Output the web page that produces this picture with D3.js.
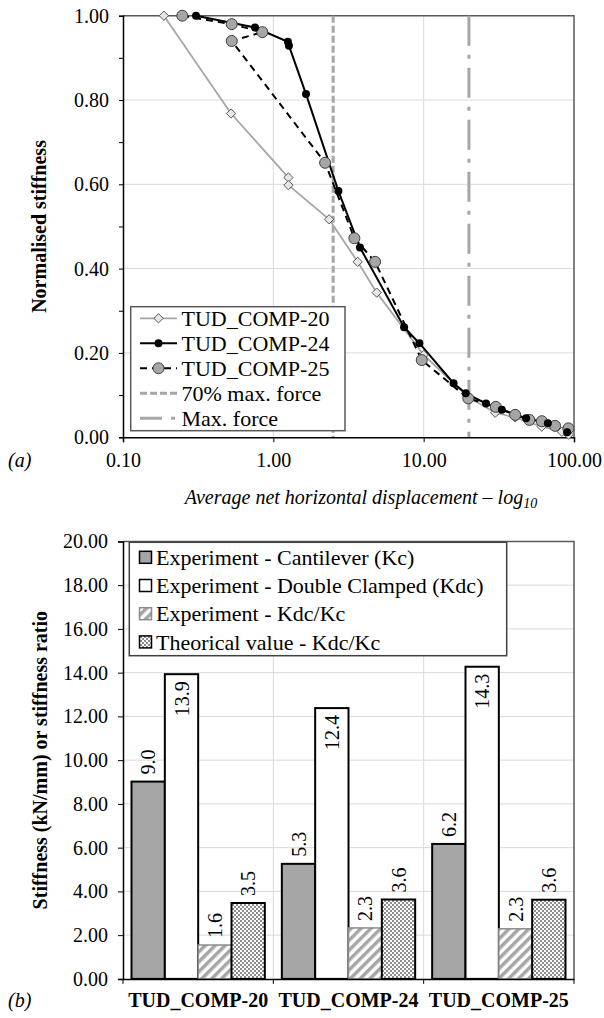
<!DOCTYPE html>
<html>
<head>
<meta charset="utf-8">
<script src="https://cdn.jsdelivr.net/npm/d3@7"></script>
<style>
  body { margin: 0; background: #fff; }
  svg, svg text { font-family: "Liberation Serif", "Tinos", "Times New Roman", Times, "DejaVu Serif", serif; }
</style>
</head>
<body>
<div id="chart"></div>
<script>
var FONT = "'Liberation Serif', Tinos, 'Times New Roman', Times, 'DejaVu Serif', serif";

// ---- data ----
var xTicks = [0.1, 1, 10, 100];
var yTicksTop = [0, 0.2, 0.4, 0.6, 0.8, 1.0];
var yMinorTop = [0.1, 0.3, 0.5, 0.7, 0.9];

var comp20X = [0.187, 0.523, 1.26, 1.26, 2.35, 3.64, 4.87, 10.0, 19.9, 29.9, 40.6, 61, 83, 92];
var comp20Y = [1.00, 0.768, 0.616, 0.598, 0.517, 0.416, 0.343, 0.195, 0.095, 0.058, 0.047, 0.025, 0.013, 0.006];

var comp24X = [0.306, 0.755, 1.25, 1.27, 1.65, 2.71, 3.77, 7.41, 9.36, 15.8, 19.05, 26.0, 33.1, 48, 67, 90];
var comp24Y = [1.00, 0.972, 0.938, 0.929, 0.814, 0.584, 0.450, 0.261, 0.223, 0.128, 0.104, 0.080, 0.065, 0.045, 0.033, 0.012];

var comp25X = [0.248, 0.529, 0.845, 0.529, 2.21, 3.46, 4.75, 9.71, 19.8, 30.2, 40.6, 50.5, 61.1, 74.8, 91.8];
var comp25Y = [1.00, 0.980, 0.961, 0.940, 0.651, 0.472, 0.416, 0.183, 0.092, 0.072, 0.053, 0.041, 0.038, 0.027, 0.021];

var force70 = 2.5;
var forceMax = 20;

var categories = ["TUD_COMP-20", "TUD_COMP-24", "TUD_COMP-25"];
var seriesNames = ["Experiment - Cantilever (Kc)", "Experiment - Double Clamped (Kdc)",
                   "Experiment - Kdc/Kc", "Theorical value - Kdc/Kc"];
var kc = [9.02, 5.26, 6.17];
var kdc = [13.93, 12.38, 14.27];
var ratioExp = [1.55, 2.33, 2.29];
var ratioTheo = [3.47, 3.63, 3.62];
var yTicksBar = [0, 2, 4, 6, 8, 10, 12, 14, 16, 18, 20];

// ---- svg ----
var svg = d3.select("#chart").append("svg")
    .attr("width", 604)
    .attr("height", 1018)
    .attr("font-family", FONT);

var defs = svg.append("defs");
var hatch = defs.append("pattern")
    .attr("id", "hatch")
    .attr("patternUnits", "userSpaceOnUse")
    .attr("width", 7).attr("height", 7)
    .attr("patternTransform", "rotate(45)");
hatch.append("rect").attr("width", 7).attr("height", 7).attr("fill", "#fff");
hatch.append("rect").attr("width", 3.5).attr("height", 7).attr("fill", "#a6a6a6");

var checker = defs.append("pattern")
    .attr("id", "checker")
    .attr("patternUnits", "userSpaceOnUse")
    .attr("width", 4).attr("height", 4);
checker.append("rect").attr("width", 4).attr("height", 4).attr("fill", "#fff");
checker.append("rect").attr("width", 2).attr("height", 2).attr("fill", "#8c8c8c");
checker.append("rect").attr("x", 2).attr("y", 2).attr("width", 2).attr("height", 2).attr("fill", "#8c8c8c");

// ================= (a) line chart =================
var L = 123, R = 574, T = 15.7, B = 437.2;
var x = d3.scaleLog().domain([0.1, 100]).range([L, R]);
var y = d3.scaleLinear().domain([0, 1]).range([B, T]);

var gA = svg.append("g");

// grid
gA.selectAll(".hg").data(yTicksTop.slice(1, -1)).enter().append("line")
    .attr("x1", L).attr("x2", R)
    .attr("y1", d => y(d)).attr("y2", d => y(d))
    .attr("stroke", "#d9d9d9").attr("stroke-width", 1);
gA.selectAll(".vg").data(xTicks.slice(1, -1)).enter().append("line")
    .attr("x1", d => x(d)).attr("x2", d => x(d))
    .attr("y1", T).attr("y2", B)
    .attr("stroke", "#d9d9d9").attr("stroke-width", 1);

// frame top/right
gA.append("path")
    .attr("d", "M" + L + "," + T + "H" + R + "V" + B)
    .attr("fill", "none").attr("stroke", "#595959").attr("stroke-width", 1.5);

// force lines
gA.append("line")
    .attr("x1", x(force70)).attr("x2", x(force70))
    .attr("y1", T).attr("y2", B)
    .attr("stroke", "#a6a6a6").attr("stroke-width", 3)
    .attr("stroke-dasharray", "7,3");
gA.append("line")
    .attr("x1", x(forceMax)).attr("x2", x(forceMax))
    .attr("y1", T).attr("y2", B)
    .attr("stroke", "#a6a6a6").attr("stroke-width", 3)
    .attr("stroke-dasharray", "30,9,4,9");

// axes
var yAxisA = gA.append("g")
    .attr("transform", "translate(" + L + ",0)")
    .call(d3.axisLeft(y).tickValues(yTicksTop.concat(yMinorTop)).tickSize(4)
        .tickFormat(d => yMinorTop.indexOf(d) >= 0 ? "" : d3.format(".2f")(d)));
var xAxisA = gA.append("g")
    .attr("transform", "translate(0," + B + ")")
    .call(d3.axisBottom(x).tickValues(xTicks).tickSize(5).tickFormat(d3.format(".2f")));
[yAxisA, xAxisA].forEach(function(a) {
  a.attr("font-family", FONT).attr("font-size", 20);
  a.select(".domain").attr("stroke", "#000").attr("stroke-width", 1.5);
  a.selectAll(".tick line").attr("stroke", "#000").attr("stroke-width", 1);
  a.selectAll("text").attr("fill", "#000");
});
yAxisA.selectAll("text").attr("x", -14);
xAxisA.selectAll("text").attr("y", 16);

// series
function pts(xs, ys) { return xs.map((v, i) => [v, ys[i]]); }
var line = d3.line().x(d => x(d[0])).y(d => y(d[1]));
var s20 = pts(comp20X, comp20Y), s24 = pts(comp24X, comp24Y), s25 = pts(comp25X, comp25Y);

gA.append("path").datum(s20).attr("d", line)
    .attr("fill", "none").attr("stroke", "#a6a6a6").attr("stroke-width", 1.8);
gA.append("path").datum(s24).attr("d", line)
    .attr("fill", "none").attr("stroke", "#000").attr("stroke-width", 2);
gA.append("path").datum(s25).attr("d", line)
    .attr("fill", "none").attr("stroke", "#000").attr("stroke-width", 2)
    .attr("stroke-dasharray", "7,5");

var diamond = d3.symbol().type(d3.symbolDiamond2).size(55);
gA.selectAll(".m20").data(s20).enter().append("path")
    .attr("d", diamond)
    .attr("transform", d => "translate(" + x(d[0]) + "," + y(d[1]) + ")")
    .attr("fill", "#e6e6e6").attr("stroke", "#595959").attr("stroke-width", 1);
gA.selectAll(".m25").data(s25).enter().append("circle")
    .attr("cx", d => x(d[0])).attr("cy", d => y(d[1])).attr("r", 5.5)
    .attr("fill", "#a6a6a6").attr("stroke", "#404040").attr("stroke-width", 1);
gA.selectAll(".m24").data(s24).enter().append("circle")
    .attr("cx", d => x(d[0])).attr("cy", d => y(d[1])).attr("r", 4)
    .attr("fill", "#000");

// legend
var legA = gA.append("g");
legA.append("rect")
    .attr("x", 130.7).attr("y", 306.7).attr("width", 214.3).attr("height", 124)
    .attr("fill", "#fff").attr("stroke", "#595959").attr("stroke-width", 1.5);
var legItems = [
  {name: "TUD_COMP-20", stroke: "#a6a6a6", w: 1.8, dash: null, mark: "d"},
  {name: "TUD_COMP-24", stroke: "#000", w: 2, dash: null, mark: "b"},
  {name: "TUD_COMP-25", stroke: "#000", w: 2, dash: "7,5", mark: "g"},
  {name: "70% max. force", stroke: "#a6a6a6", w: 3, dash: "7,3", mark: null},
  {name: "Max. force", stroke: "#a6a6a6", w: 3, dash: "22,9,4,9", mark: null}
];
legItems.forEach(function(it, i) {
  var cy = 318.3 + i * 25;
  legA.append("line")
      .attr("x1", 140).attr("x2", 177).attr("y1", cy).attr("y2", cy)
      .attr("stroke", it.stroke).attr("stroke-width", it.w)
      .attr("stroke-dasharray", it.dash);
  if (it.mark === "d") {
    legA.append("path").attr("d", diamond).attr("transform", "translate(158.5," + cy + ")")
        .attr("fill", "#e6e6e6").attr("stroke", "#595959");
  } else if (it.mark === "b") {
    legA.append("circle").attr("cx", 158.5).attr("cy", cy).attr("r", 4).attr("fill", "#000");
  } else if (it.mark === "g") {
    legA.append("circle").attr("cx", 158.5).attr("cy", cy).attr("r", 5.5)
        .attr("fill", "#a6a6a6").attr("stroke", "#404040");
  }
  legA.append("text")
      .attr("x", 181.5).attr("y", cy).attr("dy", "0.35em")
      .attr("font-size", 22).text(it.name);
});

// titles
svg.append("text")
    .attr("transform", "translate(46," + ((T + B) / 2) + ") rotate(-90)")
    .attr("text-anchor", "middle").attr("font-weight", "bold").attr("font-size", 20)
    .text("Normalised stiffness");
var xt = svg.append("text")
    .attr("x", 361).attr("y", 504)
    .attr("text-anchor", "middle").attr("font-style", "italic").attr("font-size", 20)
    .text("Average net horizontal displacement \u2013 log");
xt.append("tspan").attr("font-size", 14).attr("dy", 4).text("10");
svg.append("text").attr("x", 8).attr("y", 467)
    .attr("font-style", "italic").attr("font-size", 20).text("(a)");

// ================= (b) bar chart =================
var T2 = 541.4, B2 = 978.9;
var x0 = d3.scaleBand().domain(categories).range([L, R]);
var x1 = d3.scaleBand().domain(seriesNames).range([8.5, x0.bandwidth() - 8.5]);
var y2 = d3.scaleLinear().domain([0, 20]).range([B2, T2]);

var gB = svg.append("g");
gB.selectAll(".hg").data(yTicksBar.slice(1, -1)).enter().append("line")
    .attr("x1", L).attr("x2", R)
    .attr("y1", d => y2(d)).attr("y2", d => y2(d))
    .attr("stroke", "#d9d9d9").attr("stroke-width", 1);
gB.selectAll(".vg").data(categories.slice(1)).enter().append("line")
    .attr("x1", d => x0(d)).attr("x2", d => x0(d))
    .attr("y1", T2).attr("y2", B2)
    .attr("stroke", "#d9d9d9").attr("stroke-width", 1);
gB.append("path")
    .attr("d", "M" + L + "," + T2 + "H" + R + "V" + B2)
    .attr("fill", "none").attr("stroke", "#595959").attr("stroke-width", 1.5);

var styles = [
  {fill: "#a6a6a6", stroke: "#000", w: 2},
  {fill: "#fff", stroke: "#000", w: 2},
  {fill: "url(#hatch)", stroke: "#8c8c8c", w: 1.5},
  {fill: "url(#checker)", stroke: "#000", w: 2}
];
var barRows = [];
categories.forEach(function(c, i) {
  [kc[i], kdc[i], ratioExp[i], ratioTheo[i]].forEach(function(v, j) {
    barRows.push({cat: c, s: j, v: v});
  });
});

gB.selectAll(".bar").data(barRows).enter().append("rect")
    .attr("class", "bar")
    .attr("x", d => x0(d.cat) + x1(seriesNames[d.s]))
    .attr("y", d => y2(d.v))
    .attr("width", x1.bandwidth())
    .attr("height", d => B2 - y2(d.v))
    .attr("fill", d => styles[d.s].fill)
    .attr("stroke", d => styles[d.s].stroke)
    .attr("stroke-width", d => styles[d.s].w);

// value labels (double clamped ones sit inside the bar end)
gB.selectAll(".lbl").data(barRows).enter().append("text")
    .attr("transform", function(d) {
      var cx = x0(d.cat) + x1(seriesNames[d.s]) + x1.bandwidth() / 2;
      return "translate(" + cx + "," + y2(d.v) + ") rotate(-90)";
    })
    .attr("x", d => d.s === 1 ? -7 : 7)
    .attr("dy", "0.35em")
    .attr("text-anchor", d => d.s === 1 ? "end" : "start")
    .attr("font-size", 20)
    .text(d => d.v.toFixed(1));

var yAxisB = gB.append("g")
    .attr("transform", "translate(" + L + ",0)")
    .call(d3.axisLeft(y2).tickValues(yTicksBar).tickSize(5).tickFormat(d3.format(".2f")));
var xAxisB = gB.append("g")
    .attr("transform", "translate(0," + B2 + ")")
    .call(d3.axisBottom(x0).tickSize(0).tickFormat(""));
xAxisB.selectAll(".tk").data([L].concat(categories.map(c => x0(c) + x0.bandwidth()))).enter()
    .append("line")
    .attr("x1", d => d).attr("x2", d => d).attr("y1", 0).attr("y2", 5)
    .attr("stroke", "#000");
[yAxisB, xAxisB].forEach(function(a) {
  a.attr("font-family", FONT).attr("font-size", 20);
  a.select(".domain").attr("stroke", "#000").attr("stroke-width", 1.5);
  a.selectAll(".tick line").attr("stroke", "#000");
  a.selectAll("text").attr("fill", "#000");
});
yAxisB.selectAll("text").attr("x", -15);

gB.selectAll(".cat").data(categories).enter().append("text")
    .attr("x", d => x0(d) + x0.bandwidth() / 2).attr("y", 1007)
    .attr("text-anchor", "middle").attr("font-weight", "bold").attr("font-size", 20)
    .text(d => d);

// legend
var legB = gB.append("g");
legB.append("rect")
    .attr("x", 129.3).attr("y", 542.3).attr("width", 377.4).attr("height", 113.4)
    .attr("fill", "#fff").attr("stroke", "#404040").attr("stroke-width", 1.5);
seriesNames.forEach(function(n, i) {
  var cy = 557.3 + i * 28.2;
  legB.append("rect")
      .attr("x", 139.5).attr("y", cy - 6).attr("width", 12).attr("height", 12)
      .attr("fill", styles[i].fill).attr("stroke", styles[i].stroke).attr("stroke-width", 1.5);
  legB.append("text")
      .attr("x", 156).attr("y", cy).attr("dy", "0.35em")
      .attr("font-size", 22).text(n);
});

svg.append("text")
    .attr("transform", "translate(47," + ((T2 + B2) / 2) + ") rotate(-90)")
    .attr("text-anchor", "middle").attr("font-weight", "bold").attr("font-size", 20)
    .text("Stiffness (kN/mm) or stiffness ratio");
svg.append("text").attr("x", 8).attr("y", 1007)
    .attr("font-style", "italic").attr("font-size", 20).text("(b)");
</script>
</body>
</html>
